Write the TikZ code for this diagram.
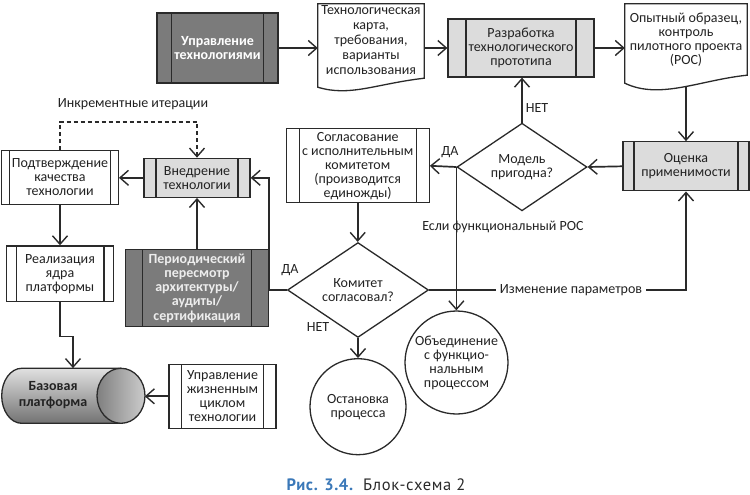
\documentclass[tikz,border=0pt]{standalone}
\usepackage{fontspec}
\setmainfont{Carlito}
\newfontfamily\capfont[LetterSpace=4]{PT Sans}
\usetikzlibrary{arrows.meta,shapes.geometric,calc}
\pgfdeclarelayer{back}
\pgfdeclarelayer{mid}
\pgfsetlayers{back,mid,main}
\definecolor{ln}{HTML}{2A2A2A}
\definecolor{darkbox}{HTML}{7B7B7B}
\definecolor{lightbox}{HTML}{DCDCDC}
\definecolor{capblue}{HTML}{3A78B8}
\definecolor{txt}{HTML}{222222}
\tikzset{
  base/.style={font=\fontsize{14}{14}\selectfont, text=txt, align=center, inner sep=0pt},
  bars/.style={path picture={\draw[ln,line width=1.3pt]
      ([xshift=#1pt]path picture bounding box.north west) -- ([xshift=#1pt]path picture bounding box.south west)
      ([xshift=-#1pt]path picture bounding box.north east) -- ([xshift=-#1pt]path picture bounding box.south east);}},
  pbox/.style={base, rectangle, draw=ln, line width=1.3pt, fill=white},
  lbox/.style={pbox, fill=lightbox},
  dbox/.style={pbox, fill=darkbox, text=white, font=\fontsize{14}{14.2}\selectfont\bfseries},
  dec/.style={base, diamond, draw=ln, line width=1.3pt, fill=white},
  term/.style={base, circle, draw=ln, line width=1.3pt, fill=white},
  conn/.style={draw=ln, line width=1.7pt, ->},
  lbl/.style={base},
  docshape/.style={draw=ln, line width=1.3pt, fill=white}
}
\begin{document}
\begin{tikzpicture}[x=1pt,y=-1pt, >={Straight Barb[length=8.5pt,width=15pt,line width=1.4pt]}]
\useasboundingbox (0,0) rectangle (750,495);

% nodes
\node[dbox, bars=14.5, minimum width=121pt, minimum height=70pt] (upr) at (217.5,48) {Управление\\технологиями};
\node[base, font=\fontsize{14}{15.2}\selectfont, minimum width=106pt, minimum height=72pt] (doc1) at (371,40) {Технологическая\\карта,\\требования,\\варианты\\использования};
\node[lbox, bars=18, minimum width=146pt, minimum height=58pt] (razr) at (521,48) {Разработка\\технологического\\прототипа};
\node[base, minimum width=122pt, minimum height=72pt] (doc2) at (686,40) {Опытный образец,\\контроль\\пилотного проекта\\(РОС)};
\node[lbox, bars=11, minimum width=126pt, minimum height=49pt] (ocenka) at (686,166.3) {Оценка\\применимости};
\node[dec, minimum width=130pt, minimum height=77pt] (model) at (522,167) {Модель\\пригодна?};
\node[pbox, bars=13, minimum width=143pt, minimum height=74pt] (soglas) at (357.7,165.8) {Согласование\\с исполнительным\\комитетом\\(производится\\единожды)};
\node[dec, minimum width=141pt, minimum height=68pt] (komitet) at (358,290) {Комитет\\согласовал?};
\node[lbox, bars=12, minimum width=106pt, minimum height=39pt] (vnedr) at (197,177.8) {Внедрение\\технологии};
\node[pbox, bars=7.5, minimum width=116.6pt, minimum height=53.6pt] (podtv) at (60,177.5) {Подтверждение\\качества\\технологии};
\node[pbox, bars=9.5, minimum width=106.7pt, minimum height=55.7pt] (real) at (60,273.8) {Реализация\\ядра\\платформы};
\node[dbox, bars=17, minimum width=142.6pt, minimum height=77.4pt, text=white!93!black] (period) at (197,288) {Периодический\\пересмотр\\архитектуры/\\аудиты/\\сертификация};
\node[base, minimum width=143.3pt, minimum height=55pt] (cyl) at (73,395.8) {};
\node[base, font=\fontsize{14}{16}\selectfont\bfseries] (cyltxt) at (53,395) {Базовая\\платформа};
\node[pbox, bars=12.7, minimum width=107pt, minimum height=64pt] (uprzh) at (222.5,396.3) {Управление\\жизненным\\циклом\\технологии};
\node[term, minimum size=96pt] (ostan) at (358,406.7) {Остановка\\процесса};
\node[term, minimum size=103pt] (obyed) at (456.5,362.5) {Объединение\\с функцио-\\нальным\\процессом};

% labels
\node[lbl] (lnet1) at (537,108) {НЕТ};
\node[lbl] (lda1) at (450,152) {ДА};
\node[lbl] (lfunc) at (503,227) {Если функциональный РОС};
\node[lbl] (lda2) at (290,270) {ДА};
\node[lbl] (lnet2) at (318,327) {НЕТ};
\node[lbl, fill=white, inner xsep=4pt, inner ysep=2pt] (lizm) at (571,290) {Изменение параметров};
\node[lbl] (linc) at (133,104) {Инкрементные итерации};

% caption
\node[inner sep=0pt, font=\capfont\fontsize{16.5}{17}\selectfont, text=ln] (cap) at (376,485)
  {\textcolor{capblue}{\bfseries Рис. 3.4.}\ \ Блок-схема 2};

% shapes drawn behind text
\begin{pgfonlayer}{mid}
\draw[docshape] (doc1.north west) -- (doc1.north east) -- ($(doc1.south east)+(0,2)$)
  .. controls (375,84) and (350,97) .. ($(doc1.south west)+(0,11)$) -- cycle;
\draw[docshape] (doc2.north west) -- (doc2.north east) -- ($(doc2.south east)+(0,-1)$)
  .. controls (700,80) and (660,100) .. ($(doc2.south west)+(0,7)$) -- cycle;
\path[shading=axis, top color=black!12, middle color=black!25, bottom color=black!55]
  (121,368.3) -- (21.7,368.3) arc[start angle=270, end angle=90, x radius=20, y radius=27.5]
  -- (121,423.3) arc[start angle=90, end angle=-90, x radius=24, y radius=27.5] -- cycle;
\draw[ln, line width=1.3pt]
  (121,368.3) -- (21.7,368.3) arc[start angle=270, end angle=90, x radius=20, y radius=27.5]
  -- (121,423.3);
\shade[left color=black!50, right color=black!20] (121,395.8) ellipse[x radius=24, y radius=27.5];
\draw[ln, line width=1.3pt] (121,395.8) ellipse[x radius=24, y radius=27.5];
\end{pgfonlayer}

% connectors
\begin{pgfonlayer}{back}
\draw[conn] (upr.east) -- (upr.east -| doc1.west);
\draw[conn] (razr.west -| doc1.east) -- (razr.west);
\draw[conn] (razr.east) -- (razr.east -| doc2.west);
\draw[conn] (doc2.south) -- (ocenka.north);
\draw[conn] (ocenka.west) -- (model.east);
\draw[conn] (model.north) -- (model.north |- razr.south);
\draw[conn] (model.west) -- (soglas.east);
\draw[conn] (model.west) -- (model.west |- obyed.north);
\draw[conn] (soglas.south) -- (soglas.south |- komitet.north);
\draw[conn] (komitet.south) -- (komitet.south |- ostan.north);
\draw[conn] (komitet.east) -| (ocenka.south);
\draw[conn] (komitet.west) -- (period.east |- komitet.west) |- (vnedr.east);
\draw[conn] (period.north) -- (vnedr.south);
\draw[conn] (vnedr.west) -- (vnedr.west -| podtv.east);
\draw[conn, dash pattern=on 4pt off 3pt] (podtv.north) -- ++(0,-28.4) -| (vnedr.north);
\draw[conn] (podtv.south) -- (podtv.south |- real.north);
\draw[conn] (real.south) -- ++(0,34.3) -| (cyl.north);
\draw[conn] (uprzh.west) -- (uprzh.west -| cyl.east);
\end{pgfonlayer}
\end{tikzpicture}
\end{document}
